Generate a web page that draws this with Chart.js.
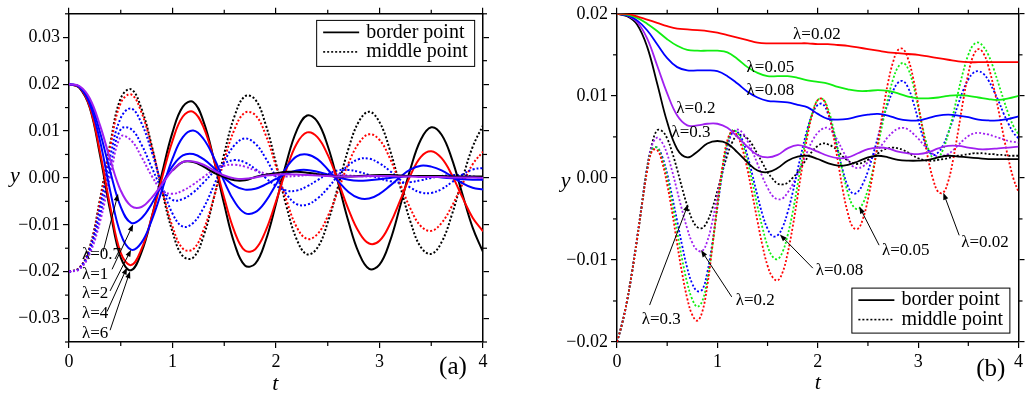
<!DOCTYPE html>
<html>
<head>
<meta charset="utf-8">
<script src="https://cdn.jsdelivr.net/npm/chart.js@4.4.1/dist/chart.umd.min.js"></script>
<style>
html, body { margin: 0; padding: 0; background: #fff; }
#wrap { position: relative; width: 1026px; height: 396px; overflow: hidden; }
canvas { position: absolute; top: 0; }
</style>
</head>
<body>
<div id="wrap">
  <canvas id="chart_a" width="513" height="396" style="left:0"></canvas>
  <canvas id="chart_b" width="513" height="396" style="left:513px"></canvas>
</div>
<script>
// time grids
const T1 = [0,0.1,0.2,0.3,0.4,0.5,0.6,0.7,0.8,0.9,1.0,1.1,1.2,1.3,1.4,1.5,1.6,1.7,1.8,1.9,
            2.0,2.1,2.2,2.3,2.4,2.5,2.6,2.7,2.8,2.9,3.0,3.1,3.2,3.3,3.4,3.5,3.6,3.7,3.8,3.9,4.0];
const T2 = [0,0.05,0.1,0.15,0.2,0.25,0.3,0.35,0.4,0.45,0.5,0.55,0.6,0.65,0.7,0.75,0.8,0.85,0.9,0.95,
            1.0,1.05,1.1,1.15,1.2,1.25,1.3,1.35,1.4,1.45,1.5,1.55,1.6,1.65,1.7,1.75,1.8,1.85,1.9,1.95,
            2.0,2.05,2.1,2.15,2.2,2.25,2.3,2.35,2.4,2.45,2.5,2.55,2.6,2.65,2.7,2.75,2.8,2.85,2.9,2.95,
            3.0,3.05,3.1,3.15,3.2,3.25,3.3,3.35,3.4,3.45,3.5,3.55,3.6,3.65,3.7,3.75,3.8,3.85,3.9,3.95,4.0];

// panel (a): border point (solid) and middle point (dotted)
const A_LAMBDA = ['λ=0.7', 'λ=1', 'λ=2', 'λ=4', 'λ=6'];
const A_BORDER_6 = [0.0200,0.0192,0.0150,0.0048,-0.0072,-0.0170,-0.0197,-0.0159,-0.0083,0.0011,0.0097,0.0152,0.0162,0.0120,0.0039,-0.0057,-0.0141,-0.0187,-0.0183,-0.0134,-0.0055,0.0032,0.0101,0.0133,0.0120,0.0068,-0.0010,-0.0093,-0.0160,-0.0194,-0.0185,-0.0136,-0.0060,0.0020,0.0082,0.0108,0.0092,0.0040,-0.0034,-0.0106,-0.0158];
const A_MIDDLE_6 = [-0.0200,-0.0192,-0.0148,-0.0045,0.0075,0.0170,0.0189,0.0148,0.0068,-0.0029,-0.0115,-0.0167,-0.0170,-0.0124,-0.0042,0.0052,0.0132,0.0174,0.0167,0.0114,0.0031,-0.0060,-0.0131,-0.0163,-0.0149,-0.0095,-0.0018,0.0062,0.0120,0.0141,0.0119,0.0060,-0.0018,-0.0094,-0.0148,-0.0162,-0.0137,-0.0078,-0.0003,0.0066,0.0112];
const A_BORDER_4 = [0.0200,0.0193,0.0152,0.0055,-0.0063,-0.0160,-0.0186,-0.0152,-0.0083,0.0001,0.0079,0.0131,0.0141,0.0108,0.0039,-0.0043,-0.0115,-0.0155,-0.0152,-0.0113,-0.0050,0.0018,0.0073,0.0097,0.0087,0.0049,-0.0007,-0.0067,-0.0115,-0.0140,-0.0134,-0.0099,-0.0048,0.0006,0.0045,0.0057,0.0042,0.0006,-0.0041,-0.0085,-0.0114];
const A_MIDDLE_4 = [-0.0200,-0.0192,-0.0150,-0.0050,0.0068,0.0160,0.0178,0.0140,0.0065,-0.0025,-0.0104,-0.0151,-0.0152,-0.0111,-0.0042,0.0038,0.0104,0.0139,0.0134,0.0092,0.0025,-0.0047,-0.0105,-0.0130,-0.0120,-0.0082,-0.0027,0.0031,0.0074,0.0093,0.0081,0.0042,-0.0013,-0.0066,-0.0103,-0.0113,-0.0096,-0.0060,-0.0014,0.0029,0.0056];
const A_BORDER_2 = [0.0200,0.0194,0.0158,0.0078,-0.0030,-0.0120,-0.0153,-0.0138,-0.0090,-0.0025,0.0041,0.0087,0.0101,0.0083,0.0043,-0.0008,-0.0051,-0.0075,-0.0073,-0.0050,-0.0014,0.0022,0.0046,0.0050,0.0040,0.0018,-0.0007,-0.0030,-0.0043,-0.0044,-0.0034,-0.0017,0.0002,0.0018,0.0026,0.0024,0.0016,0.0003,-0.0011,-0.0021,-0.0025];
const A_MIDDLE_2 = [-0.0200,-0.0193,-0.0152,-0.0062,0.0048,0.0128,0.0148,0.0117,0.0055,-0.0017,-0.0076,-0.0104,-0.0096,-0.0064,-0.0016,0.0034,0.0070,0.0084,0.0073,0.0042,0.0002,-0.0034,-0.0056,-0.0057,-0.0044,-0.0022,0.0005,0.0027,0.0040,0.0041,0.0031,0.0015,-0.0004,-0.0021,-0.0031,-0.0032,-0.0024,-0.0009,0.0007,0.0018,0.0021];
const A_BORDER_1 = [0.0200,0.0195,0.0165,0.0097,0.0012,-0.0062,-0.0096,-0.0086,-0.0055,-0.0013,0.0025,0.0048,0.0051,0.0040,0.0021,0.0000,-0.0017,-0.0025,-0.0023,-0.0014,-0.0002,0.0009,0.0016,0.0017,0.0013,0.0007,0.0001,-0.0004,-0.0006,-0.0005,-0.0003,0.0000,0.0002,0.0004,0.0004,0.0003,0.0001,-0.0001,-0.0003,-0.0004,-0.0004];
const A_MIDDLE_1 = [-0.0200,-0.0194,-0.0158,-0.0080,0.0025,0.0104,0.0104,0.0071,0.0022,-0.0023,-0.0047,-0.0045,-0.0031,-0.0010,0.0013,0.0031,0.0038,0.0033,0.0019,0.0000,-0.0017,-0.0027,-0.0027,-0.0018,-0.0005,0.0008,0.0016,0.0017,0.0013,0.0006,-0.0001,-0.0007,-0.0010,-0.0009,-0.0005,0.0000,0.0004,0.0006,0.0006,0.0003,0.0000];
const A_BORDER_07 = [0.0200,0.0196,0.0170,0.0112,0.0038,-0.0027,-0.0060,-0.0062,-0.0042,-0.0013,0.0016,0.0034,0.0035,0.0028,0.0016,0.0005,-0.0001,-0.0002,0.0001,0.0005,0.0007,0.0008,0.0007,0.0006,0.0005,0.0004,0.0003,0.0003,0.0003,0.0004,0.0004,0.0004,0.0003,0.0003,0.0002,0.0002,0.0002,0.0001,0.0001,0.0001,0.0000];
const A_MIDDLE_07 = [-0.0200,-0.0195,-0.0162,-0.0093,0.0005,0.0088,0.0080,0.0045,0.0004,-0.0027,-0.0034,-0.0027,-0.0014,0.0002,0.0017,0.0026,0.0028,0.0024,0.0016,0.0009,0.0004,0.0003,0.0004,0.0006,0.0008,0.0008,0.0007,0.0005,0.0004,0.0003,0.0003,0.0003,0.0004,0.0004,0.0004,0.0003,0.0003,0.0002,0.0002,0.0002,0.0002];
// thin black trace that leaves the purple one after t = 1
const A_BORDER_X = [null,null,null,null,null,null,null,null,null,null,0.0016,0.0034,0.0034,0.0024,0.0011,0.0002,-0.0005,-0.0005,0.0002,0.0007,0.0010,0.0013,0.0013,0.0011,0.0008,0.0005,0.0003,0.0003,0.0004,0.0005,0.0006,0.0006,0.0005,0.0004,0.0004,0.0004,0.0004,0.0003,0.0003,0.0003,0.0003];

// panel (b)
const B_LAMBDA = ['λ=0.02', 'λ=0.05', 'λ=0.08', 'λ=0.2', 'λ=0.3'];
const B_BORDER_002 = [0.0200,0.0200,0.0197,0.0193,0.0189,0.0185,0.0182,0.0181,0.0180,0.0179,0.0177,0.0174,0.0171,0.0168,0.0165,0.0164,0.0164,0.0164,0.0164,0.0164,0.0163,0.0163,0.0162,0.0161,0.0159,0.0157,0.0155,0.0153,0.0152,0.0151,0.0150,0.0148,0.0146,0.0144,0.0142,0.0141,0.0141,0.0141,0.0141,0.0141,0.0141];
const B_BORDER_005 = [0.0200,0.0199,0.0195,0.0188,0.0179,0.0169,0.0161,0.0156,0.0155,0.0155,0.0155,0.0153,0.0145,0.0135,0.0128,0.0124,0.0124,0.0124,0.0122,0.0119,0.0117,0.0115,0.0111,0.0108,0.0106,0.0106,0.0107,0.0106,0.0103,0.0099,0.0097,0.0097,0.0098,0.0100,0.0101,0.0100,0.0098,0.0096,0.0095,0.0097,0.0100];
const B_BORDER_008 = [0.0200,0.0198,0.0192,0.0180,0.0163,0.0146,0.0135,0.0131,0.0131,0.0131,0.0130,0.0124,0.0115,0.0105,0.0098,0.0094,0.0093,0.0092,0.0089,0.0086,0.0078,0.0072,0.0071,0.0072,0.0075,0.0077,0.0078,0.0076,0.0072,0.0070,0.0070,0.0073,0.0076,0.0077,0.0076,0.0074,0.0071,0.0070,0.0070,0.0072,0.0075];
const B_BORDER_02 = [0.0200,0.0198,0.0190,0.0170,0.0137,0.0103,0.0076,0.0064,0.0064,0.0066,0.0066,0.0061,0.0050,0.0038,0.0028,0.0025,0.0028,0.0036,0.0040,0.0037,0.0032,0.0027,0.0024,0.0025,0.0030,0.0035,0.0037,0.0036,0.0032,0.0030,0.0029,0.0031,0.0036,0.0039,0.0039,0.0037,0.0035,0.0035,0.0036,0.0037,0.0038];
const B_BORDER_03 = [0.0200,0.0197,0.0187,0.0160,0.0115,0.0068,0.0035,0.0025,0.0032,0.0042,0.0045,0.0042,0.0031,0.0019,0.0009,0.0007,0.0012,0.0021,0.0026,0.0027,0.0023,0.0018,0.0015,0.0016,0.0020,0.0025,0.0027,0.0025,0.0022,0.0021,0.0021,0.0022,0.0025,0.0027,0.0026,0.0025,0.0024,0.0023,0.0023,0.0023,0.0023];
const B_MIDDLE_002 = [-0.0200,-0.0178,-0.0150,-0.0115,-0.0075,-0.0032,0.0008,0.0033,0.0034,0.0019,
  -0.0008,-0.0042,-0.0081,-0.0117,-0.0147,-0.0167,-0.0174,-0.0163,-0.0131,-0.0084,
  -0.0033,0.0013,0.0046,0.0057,0.0051,0.0035,0.0010,-0.0021,-0.0053,-0.0083,
  -0.0107,-0.0121,-0.0125,-0.0115,-0.0092,-0.0060,-0.0022,0.0017,0.0053,0.0079,
  0.0095,0.0096,0.0082,0.0055,0.0021,-0.0015,-0.0043,-0.0060,-0.0062,-0.0050,
  -0.0026,0.0006,0.0044,0.0082,0.0116,0.0141,0.0156,0.0157,0.0145,0.0122,
  0.0090,0.0056,0.0023,-0.0002,-0.0017,-0.0018,-0.0004,0.0023,0.0058,0.0095,
  0.0127,0.0149,0.0157,0.0152,0.0136,0.0112,0.0083,0.0052,0.0023,-0.0001,-0.0017];
const B_MIDDLE_005 = [-0.0200,-0.0178,-0.0150,-0.0115,-0.0075,-0.0031,0.0010,0.0035,0.0037,0.0023,
  0.0000,-0.0031,-0.0066,-0.0100,-0.0128,-0.0148,-0.0157,-0.0150,-0.0124,-0.0083,
  -0.0035,0.0010,0.0043,0.0058,0.0055,0.0042,0.0020,-0.0006,-0.0035,-0.0061,
  -0.0083,-0.0096,-0.0099,-0.0090,-0.0070,-0.0042,-0.0008,0.0027,0.0058,0.0081,
  0.0095,0.0096,0.0085,0.0063,0.0035,0.0006,-0.0018,-0.0034,-0.0038,-0.0031,
  -0.0014,0.0010,0.0039,0.0069,0.0097,0.0120,0.0135,0.0140,0.0133,0.0114,
  0.0087,0.0059,0.0036,0.0024,0.0025,0.0035,0.0054,0.0078,0.0105,0.0130,
  0.0150,0.0162,0.0165,0.0160,0.0150,0.0134,0.0115,0.0096,0.0078,0.0063,0.0053];
const B_MIDDLE_008 = [-0.0200,-0.0178,-0.0150,-0.0115,-0.0075,-0.0031,0.0010,0.0035,0.0037,0.0026,
  0.0005,-0.0023,-0.0053,-0.0083,-0.0110,-0.0129,-0.0138,-0.0136,-0.0115,-0.0079,
  -0.0036,0.0006,0.0039,0.0056,0.0056,0.0046,0.0027,0.0003,-0.0022,-0.0045,
  -0.0062,-0.0071,-0.0070,-0.0060,-0.0042,-0.0018,0.0010,0.0037,0.0061,0.0079,
  0.0089,0.0090,0.0079,0.0059,0.0033,0.0009,-0.0010,-0.0019,-0.0017,-0.0007,
  0.0008,0.0028,0.0050,0.0072,0.0091,0.0106,0.0116,0.0118,0.0110,0.0093,
  0.0071,0.0049,0.0034,0.0028,0.0031,0.0040,0.0055,0.0072,0.0090,0.0107,
  0.0120,0.0128,0.0130,0.0127,0.0119,0.0107,0.0094,0.0079,0.0066,0.0055,0.0048];
const B_MIDDLE_02 = [-0.0200,-0.0178,-0.0150,-0.0115,-0.0074,-0.0030,0.0012,0.0040,0.0049,0.0043,
  0.0029,0.0008,-0.0016,-0.0040,-0.0062,-0.0079,-0.0088,-0.0089,-0.0077,-0.0053,
  -0.0022,0.0010,0.0037,0.0055,0.0059,0.0055,0.0045,0.0032,0.0017,0.0001,
  -0.0012,-0.0022,-0.0026,-0.0025,-0.0018,-0.0008,0.0005,0.0019,0.0033,0.0046,
  0.0055,0.0060,0.0061,0.0055,0.0045,0.0033,0.0022,0.0014,0.0012,0.0014,
  0.0019,0.0026,0.0034,0.0042,0.0050,0.0056,0.0060,0.0061,0.0059,0.0054,
  0.0048,0.0041,0.0034,0.0029,0.0026,0.0027,0.0029,0.0034,0.0040,0.0046,
  0.0051,0.0054,0.0055,0.0054,0.0053,0.0051,0.0049,0.0047,0.0045,0.0044,0.0043];
const B_MIDDLE_03 = [-0.0200,-0.0178,-0.0150,-0.0114,-0.0073,-0.0030,0.0013,0.0042,0.0058,0.0057,
  0.0048,0.0031,0.0010,-0.0013,-0.0034,-0.0051,-0.0060,-0.0061,-0.0053,-0.0037,
  -0.0016,0.0007,0.0028,0.0044,0.0052,0.0052,0.0048,0.0040,0.0029,0.0018,
  0.0007,-0.0001,-0.0007,-0.0008,-0.0006,0.0000,0.0007,0.0016,0.0025,0.0033,
  0.0039,0.0042,0.0041,0.0038,0.0033,0.0026,0.0021,0.0018,0.0017,0.0019,
  0.0022,0.0026,0.0030,0.0034,0.0036,0.0037,0.0036,0.0034,0.0031,0.0027,
  0.0024,0.0022,0.0021,0.0021,0.0022,0.0023,0.0024,0.0026,0.0027,0.0028,
  0.0029,0.0030,0.0030,0.0030,0.0029,0.0029,0.0028,0.0028,0.0027,0.0027,0.0027];

const KEY_TEXT = ['border point', 'middle point'];

const BLACK = '#000000', RED = '#ff0000', BLUE = '#0000ff', PURPLE = '#a020f0', GREEN = '#11ee11';
const SERIF = '"Liberation Serif", "Times New Roman", serif';

function line(ts, ys, color, dotted, width) {
    return {
        data: ts.map((t, i) => ({ x: t, y: ys[i] })).filter(p => p.y !== null),
        borderColor: color,
        borderWidth: width || 2,
        borderDash: dotted ? [2, 2] : [],
        pointRadius: 0,
        tension: 0.4,
        fill: false
    };
}

const isMajor = (v, unit) => Math.abs(v / unit - Math.round(v / unit)) < 1e-6;

function fmtY(v) {
    if (!isMajor(v, 0.01)) return '';
    const r = Math.round(v * 100) / 100;
    return (r < 0 ? '\u2212' : '') + Math.abs(r).toFixed(2);
}

function frameAxis(position, min, max, step, size, labels) {
    const horiz = position === 'bottom' || position === 'top';
    const unit = horiz ? 1 : 0.01;
    return {
        type: 'linear', position, min, max,
        ticks: {
            display: labels, stepSize: step, autoSkip: false, maxRotation: 0,
            color: '#000', padding: 3, font: { family: SERIF, size: 18 },
            callback: horiz ? (v => isMajor(v, 1) ? String(Math.round(v)) : '') : fmtY
        },
        grid: {
            display: true, drawOnChartArea: false, drawTicks: true, tickLength: 6,
            color: '#000', lineWidth: 1.2,
            // minor ticks are hidden here and drawn shorter by the plugin
            tickColor: c => (c.tick && isMajor(c.tick.value, unit)) ? '#000' : 'rgba(0,0,0,0)'
        },
        border: { display: true, color: '#000', width: 1.5 },
        afterFit(s) { if (horiz) s.height = size; else s.width = size; }
    };
}

function arrowTo(ctx, x0, y0, x1, y1) {
    const a = Math.atan2(y1 - y0, x1 - x0), L = 7, W = 2.6;
    const c = Math.cos(a), s = Math.sin(a);
    ctx.lineWidth = 1;
    ctx.beginPath();
    ctx.moveTo(x0, y0);
    ctx.lineTo(x1 - 5 * c, y1 - 5 * s);
    ctx.stroke();
    ctx.beginPath();
    ctx.moveTo(x1, y1);
    ctx.lineTo(x1 - L * c + W * s, y1 - L * s - W * c);
    ctx.lineTo(x1 - L * c - W * s, y1 - L * s + W * c);
    ctx.closePath();
    ctx.fill();
}

const minorTicks = {
    id: 'minorTicks',
    afterDraw(chart) {
        const ctx = chart.ctx, area = chart.chartArea;
        ctx.save();
        ctx.strokeStyle = '#000';
        ctx.lineWidth = 1.2;
        Object.values(chart.scales).forEach(s => {
            const horiz = s.isHorizontal();
            const unit = horiz ? 1 : 0.01;
            s.ticks.forEach(tk => {
                if (isMajor(tk.value, unit)) return;
                const p = s.getPixelForValue(tk.value);
                ctx.beginPath();
                if (s.position === 'bottom') { ctx.moveTo(p, area.bottom); ctx.lineTo(p, area.bottom + 4); }
                else if (s.position === 'top') { ctx.moveTo(p, area.top); ctx.lineTo(p, area.top - 4); }
                else if (s.position === 'left') { ctx.moveTo(area.left, p); ctx.lineTo(area.left - 4, p); }
                else { ctx.moveTo(area.right, p); ctx.lineTo(area.right + 4, p); }
                ctx.stroke();
            });
        });
        ctx.restore();
    }
};

const notes = {
    id: 'notes',
    afterDraw(chart, args, opts) {
        const ctx = chart.ctx, xs = chart.scales.x, ys = chart.scales.y;
        const px = t => xs.getPixelForValue(t), py = v => ys.getPixelForValue(v);
        ctx.save();
        ctx.fillStyle = '#000';
        ctx.strokeStyle = '#000';
        ctx.setLineDash([]);
        opts.arrows.forEach(a => arrowTo(ctx, px(a[0]), py(a[1]), px(a[2]), py(a[3])));
        ctx.textBaseline = 'middle';
        opts.texts.forEach(s => {
            ctx.font = s.font || ('17px ' + SERIF);
            ctx.textAlign = s.align || 'left';
            ctx.fillText(s.text, px(s.t), py(s.v));
        });
        // key box
        const k = opts.key;
        const kx = px(k.t), ky = py(k.v);
        ctx.fillStyle = '#fff';
        ctx.fillRect(kx, ky, k.w, k.h);
        ctx.lineWidth = 1;
        ctx.strokeRect(kx + 0.5, ky + 0.5, k.w, k.h);
        ctx.fillStyle = '#000';
        ctx.font = '20px ' + SERIF;
        ctx.textAlign = 'left';
        KEY_TEXT.forEach((txt, i) => {
            const yy = ky + 12.5 + i * 19.5;
            ctx.setLineDash(i ? [2, 2] : []);
            ctx.lineWidth = 1.6;
            ctx.beginPath();
            ctx.moveTo(kx + 7, yy);
            ctx.lineTo(kx + 43, yy);
            ctx.stroke();
            ctx.fillText(txt, kx + 50, yy);
        });
        ctx.restore();
    }
};

const ITALIC = 'italic 22px ' + SERIF;

new Chart(document.getElementById('chart_a'), {
    type: 'line',
    data: {
        datasets: [
            line(T1, A_BORDER_07, PURPLE, false),
            line(T1, A_BORDER_X, BLACK, false),
            line(T1, A_BORDER_1, BLUE, false),
            line(T1, A_BORDER_2, BLUE, false),
            line(T1, A_BORDER_4, RED, false),
            line(T1, A_BORDER_6, BLACK, false),
            line(T1, A_MIDDLE_07, PURPLE, true),
            line(T1, A_MIDDLE_1, BLUE, true),
            line(T1, A_MIDDLE_2, BLUE, true),
            line(T1, A_MIDDLE_4, RED, true),
            line(T1, A_MIDDLE_6, BLACK, true)
        ]
    },
    options: {
        responsive: false,
        animation: false,
        layout: { padding: { left: 0, top: 2, right: 24, bottom: 18 } },
        plugins: {
            legend: { display: false },
            tooltip: { enabled: false },
            notes: {
                arrows: [
                    [0.33, -0.0157, 0.474, -0.0034],
                    [0.416, -0.0195, 0.62, -0.0099],
                    [0.397, -0.0241, 0.60, -0.0153],
                    [0.368, -0.0285, 0.561, -0.0191],
                    [0.397, -0.0325, 0.590, -0.0199]
                ],
                texts: [
                    { text: A_LAMBDA[0], t: 0.126, v: -0.0164 },
                    { text: A_LAMBDA[1], t: 0.126, v: -0.0206 },
                    { text: A_LAMBDA[2], t: 0.126, v: -0.0247 },
                    { text: A_LAMBDA[3], t: 0.126, v: -0.0289 },
                    { text: A_LAMBDA[4], t: 0.126, v: -0.0331 },
                    { text: 'y', t: -0.523, v: 0.0004, font: ITALIC, align: 'center' },
                    { text: 't', t: 1.994, v: -0.044, font: ITALIC, align: 'center' },
                    { text: '(a)', t: 3.71, v: -0.0405, font: '25px ' + SERIF, align: 'center' }
                ],
                key: { t: 2.388, v: 0.0337, w: 158, h: 46 }
            }
        },
        scales: {
            x: frameAxis('bottom', 0, 4, 0.5, 36, true),
            x2: frameAxis('top', 0, 4, 0.5, 6, false),
            y: frameAxis('left', -0.035, 0.035, 0.005, 69, true),
            y2: frameAxis('right', -0.035, 0.035, 0.005, 6, false)
        }
    },
    plugins: [minorTicks, notes]
});

new Chart(document.getElementById('chart_b'), {
    type: 'line',
    data: {
        datasets: [
            line(T1, B_BORDER_002, RED, false, 1.8),
            line(T1, B_BORDER_005, GREEN, false, 1.8),
            line(T1, B_BORDER_008, BLUE, false, 1.8),
            line(T1, B_BORDER_02, PURPLE, false, 1.8),
            line(T1, B_BORDER_03, BLACK, false, 1.8),
            line(T2, B_MIDDLE_002, RED, true, 1.8),
            line(T2, B_MIDDLE_005, GREEN, true, 1.8),
            line(T2, B_MIDDLE_008, BLUE, true, 1.8),
            line(T2, B_MIDDLE_02, PURPLE, true, 1.8),
            line(T2, B_MIDDLE_03, BLACK, true, 1.8)
        ]
    },
    options: {
        responsive: false,
        animation: false,
        layout: { padding: { left: 0, top: 5, right: 0, bottom: 18 } },
        plugins: {
            legend: { display: false },
            tooltip: { enabled: false },
            notes: {
                arrows: [
                    [0.325, -0.0155, 0.709, -0.0032],
                    [1.143, -0.0145, 0.837, -0.0088],
                    [1.951, -0.0110, 1.623, -0.0069],
                    [2.611, -0.0082, 2.414, -0.0035],
                    [3.409, -0.0070, 3.251, -0.0018]
                ],
                texts: [
                    { text: B_LAMBDA[0], t: 1.754, v: 0.0175 },
                    { text: B_LAMBDA[1], t: 1.291, v: 0.0135 },
                    { text: B_LAMBDA[2], t: 1.291, v: 0.0107 },
                    { text: B_LAMBDA[3], t: 0.591, v: 0.0084 },
                    { text: B_LAMBDA[4], t: 0.542, v: 0.0055 },
                    { text: B_LAMBDA[4], t: 0.246, v: -0.0173 },
                    { text: B_LAMBDA[3], t: 1.182, v: -0.0149 },
                    { text: B_LAMBDA[2], t: 1.980, v: -0.0113 },
                    { text: B_LAMBDA[1], t: 2.640, v: -0.0088 },
                    { text: B_LAMBDA[0], t: 3.429, v: -0.0079 },
                    { text: 'y', t: -0.512, v: -0.0004, font: ITALIC, align: 'center' },
                    { text: 't', t: 2.0, v: -0.025, font: ITALIC, align: 'center' },
                    { text: '(b)', t: 3.724, v: -0.0234, font: '25px ' + SERIF, align: 'center' }
                ],
                key: { t: 2.335, v: -0.01337, w: 158, h: 45 }
            }
        },
        scales: {
            x: frameAxis('bottom', 0, 4, 0.5, 36, true),
            x2: frameAxis('top', 0, 4, 0.5, 6, false),
            y: frameAxis('left', -0.02, 0.02, 0.005, 104, true),
            y2: frameAxis('right', -0.02, 0.02, 0.005, 3, false)
        }
    },
    plugins: [minorTicks, notes]
});
</script>
</body>
</html>
